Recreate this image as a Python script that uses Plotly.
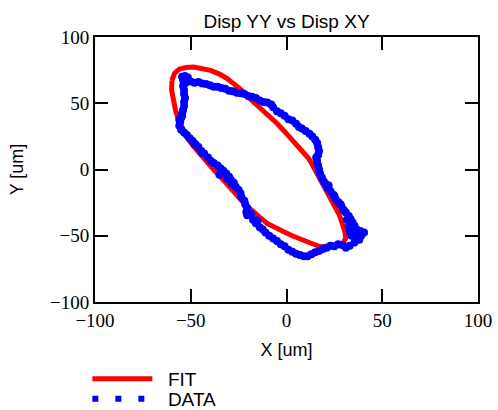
import plotly.graph_objects as go

# FIT curve (closed loop)
fit_x = [-59.8, -58.5, -56, -52.5, -48.5, -44, -39.7, -35, -31, -26.5, -22.3, -18.8, -15.3, -11.9,
         -8.5, -4.9, -1.5, 2.3, 5.8, 9, 11.5, 13.5, 16, 18.5, 20.4, 23.5, 25.6, 27.5, 29.1, 30.5,
         30.9, 29.5, 26, 21.3, 17.8, 12.5, 7.3, 3, -1.4, -6, -10.1, -14, -17.5, -21.5, -25.5,
         -29.5, -33.5, -37.5, -41.5, -45, -48.5, -51.9, -54.5, -56.5, -58, -59, -60, -59.8]
fit_y = [67.3, 72.5, 75.7, 77, 77.3, 76.5, 74.8, 72, 68.6, 63.5, 58.5, 53, 48.5, 44.7,
         40, 34.7, 29.5, 23.5, 18.5, 13.5, 8.5, 3.5, -3, -9.5, -15.6, -22, -28.2, -34, -40.7, -47,
         -52, -55.5, -57, -58, -58.3, -55.5, -53, -50, -47, -43.5, -40.7, -36, -31.5, -26.5, -20,
         -13, -7, -1, 5.5, 11.5, 17.5, 24, 31, 38, 45, 52, 60, 67.3]

# Measured DATA points
data_x = [-54.5, -53, -51.5, -54, -52.5,
          -50, -48, -46, -44, -42, -40, -38, -36, -34, -32, -30, -28, -26, -24, -22, -20, -18, -16,
          -14, -12, -10, -8, -7, -5, -3, -1, 1, 3, 5, 6.5, 8, 10, 12, 13.5, 15, 16, 16.5, 17, 16.5,
          15.5, 16,
          16.5, 17, 17.5, 18.5, 19.5, 20.5, 21.5, 23, 24.5, 25.5, 27, 28.5, 29.5, 31, 32.5, 33.5,
          34.5, 35.5, 36.5, 38.5, 40.5, 39, 37.5,
          22, 25, 28, 30, 31.5, 32.5, 33, 34, 36, 38,
          35.5, 33, 31, 29, 27, 25, 23, 21, 19, 17, 15, 13, 11, 9, 7, 5, 3, 1, -1, -3, -5, -7, -9,
          -11, -12.5, -14, -16, -17.5, -15, -18.5, -20.5, -21, -20.5,
          -21.5, -22, -23.5, -24, -25, -26.5, -27.5, -29, -30, -31.5, -33, -34.5, -36, -38, -39.5,
          -41, -43, -44.5, -46, -47.5, -49, -50.5, -52, -53.5, -55, -56, -55.5,
          -55, -54.5, -54, -53.5, -53.5, -53, -53.5, -53.5, -54, -53, -56, -54.5,
          -35, -31, -28.5, -44, -48]
data_y = [70, 70.5, 69.5, 67.5, 66.5,
          66.5, 65.5, 66, 65, 64.5, 63.5, 62.5, 62.5, 61.5, 61, 59.5, 59, 58, 57.5, 57, 55.5, 55, 54,
          52, 51, 50.5, 49, 47, 44, 42.5, 40.5, 38, 37, 34.5, 32, 31, 29, 27, 25, 22.5, 20, 17, 14, 11,
          9, 6.5,
          3, 0, -3, -6, -9, -11, -14, -16.5, -19, -22, -24.5, -27, -30, -32.5, -35, -37.5,
          -40, -42.5, -45, -46.5, -47.5, -50, -52.5,
          -12, -20, -26, -31, -38, -43, -47, -50, -49, -53,
          -55, -57.5, -59, -57, -56.5, -58, -57.5, -59, -60, -61.5, -62.5, -64, -65.5, -65.5, -64.5,
          -63.5, -62, -60.5, -58, -56.5, -54, -52, -50, -47.5, -45, -43.5, -40.5, -38, -38.5, -33.5,
          -34.5, -32, -29,
          -26.5, -23.5, -21, -18, -15.5, -13, -10, -8, -5.5, -3, -1, 1, 3, 5, 6.5, 9, 12, 14, 17,
          19, 21.5, 23.5, 26, 28, 30, 33, 36,
          39, 42, 45, 48, 51, 54, 57, 60, 63, 65, 37.5, 40.5,
          -4, -7, -11, 12.5, 19]

x_ticks = [-100, -50, 0, 50, 100]
y_ticks = [-100, -50, 0, 50, 100]

fig = go.Figure()
fig.add_trace(go.Scatter(x=fit_x, y=fit_y, mode="lines", name="FIT",
                         line=dict(color="#ff0000", width=5), showlegend=False))
fig.add_trace(go.Scatter(x=data_x, y=data_y, mode="markers", name="DATA",
                         marker=dict(color="#0000ff", size=8), showlegend=False))
# legend entries
fig.add_trace(go.Scatter(x=[None], y=[None], mode="lines", name="\u00a0\u00a0FIT",
                         line=dict(color="#ff0000", width=5), legend="legend"))
fig.add_trace(go.Scatter(x=[None], y=[None], mode="lines", name="\u00a0\u00a0DATA",
                         line=dict(color="#0000ff", width=6, dash="6px,17px"), legend="legend2"))

serif = "'Liberation Serif', 'Times New Roman', Times, serif"
sans = "'Liberation Sans', Arial, sans-serif"

axis_common = dict(
    range=[-100, 100], showline=True, linecolor="black", linewidth=2, mirror="ticks",
    ticks="inside", ticklen=13, tickwidth=1.5, tickcolor="black",
    showgrid=False, zeroline=False, automargin=False,
    tickfont=dict(family=serif, size=19, color="black"),
)

legend_common = dict(x=-0.02, xanchor="left", yref="container", yanchor="top",
                     itemwidth=60, font=dict(family=sans, size=19, color="black"),
                     bgcolor="rgba(0,0,0,0)")

fig.update_layout(
    width=498, height=410,
    margin=dict(l=95, r=20, t=37, b=108, autoexpand=False),
    paper_bgcolor="white", plot_bgcolor="white",
    title=dict(text="Disp YY vs Disp XY", x=0.5, xref="paper", xanchor="center",
               y=1 - 21 / 410, yref="container", yanchor="middle",
               font=dict(family=sans, size=19, color="black")),
    xaxis=dict(**axis_common, tickvals=x_ticks,
               title=dict(text="X [um]", standoff=17,
                          font=dict(family=sans, size=18, color="black"))),
    yaxis=dict(**axis_common, tickvals=y_ticks,
               title=dict(text="Y [um]", standoff=22,
                          font=dict(family=sans, size=18, color="black"))),
    legend=dict(**legend_common, y=1 - 360 / 410),
    legend2=dict(**legend_common, y=1 - 380 / 410),
)

fig.write_html("out.html")
